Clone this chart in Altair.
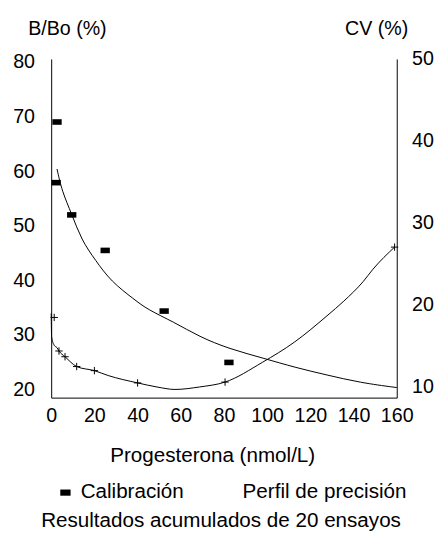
import altair as alt
import pandas as pd

FONT = "Liberation Sans"

# Calibration points (B/Bo %, left axis)
cal_x = [2.7, 2.3, 9.5, 25, 52.3, 82.3]
cal_y = [69.0, 57.9, 52.0, 45.5, 34.4, 25.0]

# Calibration fitted curve
cal_curve_x = [2.7, 5, 9.5, 14, 20.5, 27.7, 38.6, 44.5, 56.8, 68.6, 82.3, 99, 112.7, 127.7, 143, 160]
cal_curve_y = [60.4, 56.3, 52.2, 47.4, 43.7, 39.8, 36.5, 34.7, 32.4, 29.7, 27.5, 25.7, 24.1, 22.7, 21.3, 20.4]

# Precision profile points (CV %, right axis)
prec_x = [1.4, 3.6, 6.4, 11.8, 20, 40, 80.5, 159]
prec_y = [18.4, 14.3, 13.6, 12.4, 11.9, 10.4, 10.5, 27.0]

# Precision profile curve
prec_curve_x = [0, 0.2, 1.4, 2.7, 3.6, 6.4, 11.8, 20, 26.4, 40, 49, 57.3, 68.6, 80.5, 97.7, 112.7, 127.7, 135.5, 144.5, 149, 159]
prec_curve_y = [18.9, 16.0, 15.0, 14.7, 14.3, 13.6, 12.4, 11.9, 11.3, 10.4, 9.9, 9.6, 9.9, 10.5, 12.9, 15.4, 18.6, 20.4, 22.8, 24.3, 27.0]

series = ["Calibración", "Perfil de precisión"]
footnote = ["Resultados acumulados de 20 ensayos"]
x_ticks = [0, 20, 40, 60, 80, 100, 120, 140, 160]
left_ticks = [20, 30, 40, 50, 60, 70, 80]
right_ticks = [10, 20, 30, 40, 50]

cal_df = pd.DataFrame({"x": cal_x, "y": cal_y, "serie": series[0]})
cal_curve_df = pd.DataFrame({"x": cal_curve_x, "y": cal_curve_y})
prec_df = pd.DataFrame({"x": prec_x, "y": prec_y})
prec_curve_df = pd.DataFrame({"x": prec_curve_x, "y": prec_curve_y})
note_df = pd.DataFrame({"t": footnote})

RECT = "M-1,-0.6H1V0.6H-1Z"
PLUS = "M-1,0H1M0,-1V1"

xenc = alt.X(
    "x:Q",
    scale=alt.Scale(domain=[0, 160], nice=False, zero=False),
    axis=alt.Axis(
        values=x_ticks, ticks=False, grid=False, title="Progesterona (nmol/L)",
        labelPadding=8, titlePadding=20, titleX=164, labelFlush=False,
        titleFontSize=21,
    ),
)

left_axis = alt.Axis(
    orient="left", values=left_ticks, ticks=False, grid=False, labelPadding=17,
    title="B/Bo (%)", titleAngle=0, titleAlign="center", titleBaseline="middle",
    titleX=16, titleY=-31,
)
right_axis = alt.Axis(
    orient="right", values=right_ticks, ticks=False, grid=False, labelPadding=15,
    title="CV (%)", titleAngle=0, titleAlign="center", titleBaseline="middle",
    titleX=-21, titleY=-31,
)

left_scale = alt.Scale(domain=[18.56, 80.54], nice=False, zero=False)
right_scale = alt.Scale(domain=[8.6, 50.0], nice=False, zero=False)

cal_curve = alt.Chart(cal_curve_df).mark_line(
    color="black", strokeWidth=1, interpolate="basis"
).encode(x=xenc, y=alt.Y("y:Q", scale=left_scale, axis=left_axis))

cal_pts = alt.Chart(cal_df).mark_point(
    filled=True, color="black", size=90, opacity=1
).encode(
    x=xenc,
    y=alt.Y("y:Q", scale=left_scale, axis=left_axis),
    shape=alt.Shape(
        "serie:N",
        scale=alt.Scale(domain=series, range=[RECT, "M0,0"]),
        legend=alt.Legend(
            orient="none", legendX=4, legendY=431, direction="horizontal", title=None,
            labelFont=FONT, labelFontSize=21, labelColor="black", symbolSize=110,
            symbolFillColor="black", symbolStrokeWidth=0, labelOffset=5,
            columnPadding=33, labelLimit=400,
        ),
    ),
)

note = alt.Chart(note_df).mark_text(
    font=FONT, fontSize=21, color="black", align="center", baseline="middle"
).encode(text="t:N", x=alt.value(173), y=alt.value(471))

prec_curve = alt.Chart(prec_curve_df).mark_line(
    color="black", strokeWidth=1, interpolate="monotone"
).encode(x=xenc, y=alt.Y("y:Q", scale=right_scale, axis=right_axis))

prec_pts = alt.Chart(prec_df).mark_point(
    shape=PLUS, filled=False, color="black", strokeWidth=1, size=56, opacity=1
).encode(x=xenc, y=alt.Y("y:Q", scale=right_scale, axis=right_axis))

left = alt.layer(cal_curve, cal_pts, note)
right = alt.layer(prec_curve, prec_pts)

chart = (
    alt.layer(left, right)
    .resolve_scale(y="independent")
    .properties(
        width=352,
        height=345,
        background="white",
        autosize=alt.AutoSizeParams(type="none"),
        padding={"left": 44, "top": 47, "right": 41, "bottom": 133},
    )
    .configure_view(stroke=None)
    .configure_axis(
        domainColor="black", domainWidth=1, labelFont=FONT, labelFontSize=20,
        labelColor="black", titleFont=FONT, titleFontSize=20, titleColor="black",
        titleFontWeight="normal",
    )
)

chart.save("out.html", embed_options={"renderer": "svg", "actions": False})
